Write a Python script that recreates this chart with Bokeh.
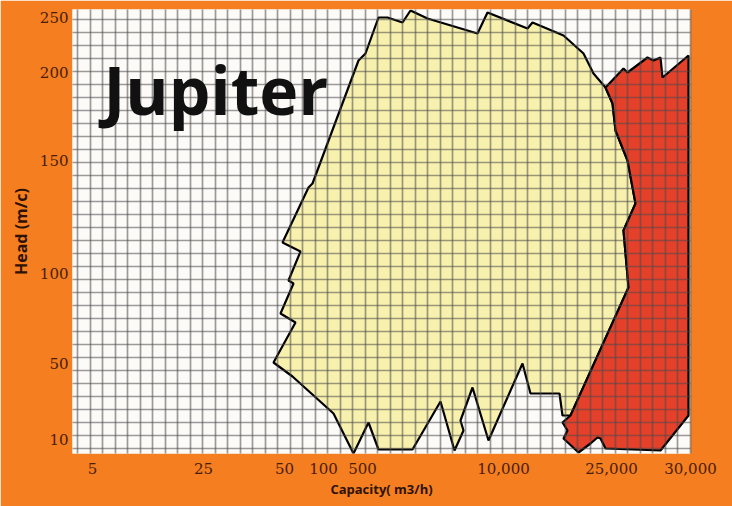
import numpy as np
from bokeh.plotting import figure
from bokeh.models import FixedTicker, Range1d, Label, Title
from bokeh.embed import file_html
from bokeh.resources import INLINE

# Chart positions of the labelled ticks (axis is a non-uniform chart scale)
x_tick_pos = [20, 131, 212, 251, 290, 431, 539, 618]
x_tick_labels = ["5", "25", "50", "100", "500", "10,000", "25,000", "30,000"]
y_tick_pos = [14, 90, 180, 293, 381, 436]
y_tick_labels = ["10", "50", "100", "150", "200", "250"]

# Yellow envelope (Jupiter range) in chart units
yellow_x = [306, 315, 330, 338, 355, 405, 415, 455, 460, 491, 511, 521, 533, 540, 543, 555,
            563, 551, 556, 498, 490, 487, 458, 450, 416, 400, 388, 391, 382, 368, 340, 306,
            296, 281, 261, 220, 201, 223, 208, 221, 216, 228, 210, 236, 240, 286, 293]
yellow_y = [436, 436, 431, 443, 435, 420, 441, 425, 431, 418, 400, 380, 366, 350, 323, 293,
            250, 223, 166, 38, 38, 60, 60, 90, 13, 66, 33, 23, 3, 52, 4, 4,
            31, 0, 40, 77, 91, 131, 140, 170, 173, 202, 211, 266, 270, 393, 400]

# Red envelope (high-capacity range)
red_x = [533, 551, 555, 575, 581, 588, 590, 616, 616, 588, 533, 528, 525, 518, 506, 491,
         495, 490, 498, 556, 551, 563, 555, 543, 540]
red_y = [366, 385, 381, 396, 393, 396, 376, 398, 38, 3, 5, 15, 16, 10, 1, 15,
         23, 31, 38, 166, 223, 250, 293, 323, 350]

ORANGE = "#F47E20"
LABEL_COLOR = "#4a1d08"

p = figure(width=732, height=506, x_range=Range1d(0, 618), y_range=Range1d(0, 444),
           output_backend="svg", toolbar_location=None,
           min_border_left=72, min_border_right=42, min_border_top=9, min_border_bottom=53)
p.background_fill_color = "#FCFBF8"
p.border_fill_color = ORANGE
p.outline_line_color = None

p.patch(yellow_x, yellow_y, fill_color="#F8F1AE", line_color="black", line_width=2.2)
p.patch(red_x, red_y, fill_color="#E5402A", line_color="black", line_width=2.2)

# dense graph-paper grid drawn over the envelopes
for g, step, end in ((p.xgrid, 12.5, 618), (p.ygrid, 13.0, 444)):
    g.ticker = FixedTicker(ticks=list(np.arange(5, end, step)))
    g.grid_line_color = "#4a4a4a"
    g.grid_line_alpha = 0.55
    g.grid_line_width = 1.7
    g.level = "guide"

p.xaxis.ticker = FixedTicker(ticks=x_tick_pos)
p.xaxis.major_label_overrides = {v: t for v, t in zip(x_tick_pos, x_tick_labels)}
p.yaxis.ticker = FixedTicker(ticks=y_tick_pos)
p.yaxis.major_label_overrides = {v: t for v, t in zip(y_tick_pos, y_tick_labels)}

for ax in (p.xaxis[0], p.yaxis[0]):
    ax.axis_line_color = None
    ax.major_tick_line_color = None
    ax.minor_tick_line_color = None
    ax.major_tick_out = 0
    ax.major_tick_in = 0
    ax.minor_tick_out = 0
    ax.minor_tick_in = 0
    ax.major_label_text_font = "DejaVu Serif"
    ax.major_label_text_font_size = "15px"
    ax.major_label_text_color = LABEL_COLOR

p.xaxis.major_label_standoff = 9
p.yaxis.major_label_standoff = 4
p.yaxis.axis_label = "Head (m/c)"
p.yaxis.axis_label_text_font = "Open Sans"
p.yaxis.axis_label_text_font_style = "bold"
p.yaxis.axis_label_text_font_size = "16px"
p.yaxis.axis_label_text_color = "#2e1205"
p.yaxis.axis_label_standoff = 5

p.add_layout(Title(text="Capacity( m3/h)", align="center", offset=41, standoff=2,
                   text_font="Open Sans", text_font_style="bold", text_font_size="13px",
                   text_color="#2e1205", text_line_height=1.0), "below")

p.add_layout(Label(x=31, y=365, text="Jupiter", text_align="left",
                   text_baseline="alphabetic", text_font="Open Sans", text_font_style="bold",
                   text_font_size="66px", text_color="#111111"))

open("out.html", "w").write(file_html(p, INLINE))
